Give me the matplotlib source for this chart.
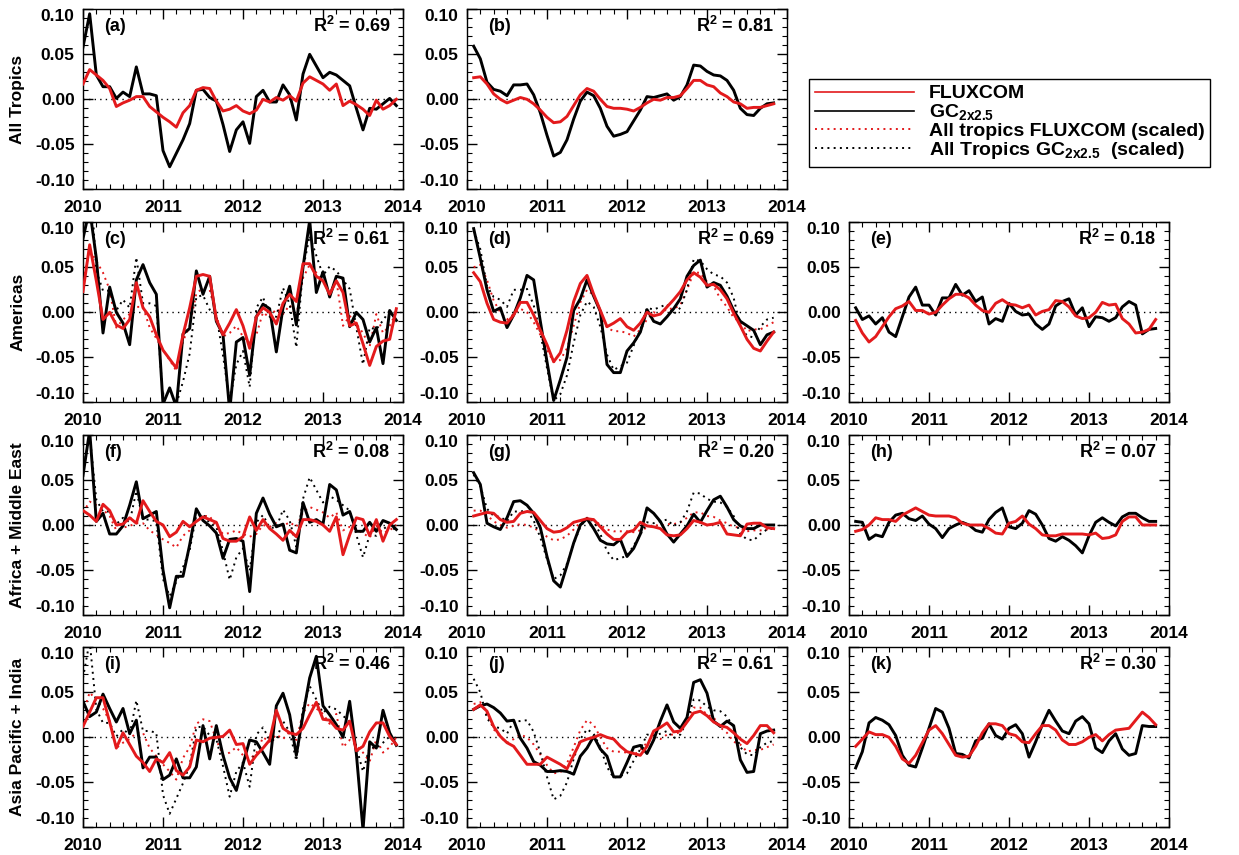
import numpy as np
import matplotlib
matplotlib.use('Agg')
import matplotlib.pyplot as plt
from matplotlib.lines import Line2D
from matplotlib.ticker import MultipleLocator

plt.rcParams['font.family'] = ['Liberation Sans', 'DejaVu Sans']
plt.rcParams['font.weight'] = 'bold'
plt.rcParams['mathtext.fontset'] = 'custom'
plt.rcParams['mathtext.rm'] = 'Liberation Sans:bold'
plt.rcParams['mathtext.bf'] = 'Liberation Sans:bold'
plt.rcParams['mathtext.it'] = 'Liberation Sans:bold'

# ---------------- time axes (decimal years) ----------------
t_full = 2010 + np.arange(48) / 12.0      # Jan 2010 .. Dec 2013 (column 1)
t_part = 2010 + np.arange(1, 47) / 12.0   # Feb 2010 .. Nov 2013 (columns 2-3)

row_names = ["All Tropics", "Americas", "Africa + Middle East", "Asia Pacific + India"]
year_ticks = [2010, 2011, 2012, 2013, 2014]

# ---------------- (a) All tropics, column 1 ----------------
a_flux = [0.017, 0.033, 0.027, 0.021, 0.012, -0.008, -0.004, -0.001, 0.003, 0.003, -0.008, -0.014,
          -0.020, -0.025, -0.031, -0.015, -0.007, 0.010, 0.013, 0.012, -0.002, -0.013, -0.011, -0.007,
          -0.013, -0.016, -0.012, 0.000, -0.003, 0.002, -0.001, 0.004, -0.002, 0.018, 0.025, 0.021,
          0.017, 0.010, 0.017, -0.007, -0.002, -0.006, -0.011, -0.018, -0.001, -0.011, -0.007, 0.000]
a_gc = [0.058, 0.095, 0.027, 0.014, 0.014, 0.001, 0.008, 0.003, 0.036, 0.006, 0.006, 0.004,
        -0.057, -0.075, -0.060, -0.045, -0.027, 0.010, 0.011, 0.002, -0.002, -0.028, -0.058, -0.034,
        -0.025, -0.049, 0.003, 0.010, -0.003, -0.003, 0.016, 0.005, -0.023, 0.028, 0.050, 0.037,
        0.024, 0.030, 0.027, 0.021, 0.015, -0.010, -0.034, -0.010, -0.011, -0.005, 0.001, -0.007]

# ---------------- (b) All tropics, column 2 ----------------
b_flux = [0.024, 0.025, 0.017, 0.006, 0.000, -0.004, -0.001, 0.002, 0.000, -0.005, -0.012,
          -0.020, -0.026, -0.025, -0.019, -0.007, 0.005, 0.012, 0.009, 0.000, -0.008, -0.010, -0.010,
          -0.011, -0.013, -0.009, -0.004, 0.000, -0.001, 0.002, 0.002, 0.004, 0.012, 0.021, 0.021,
          0.016, 0.014, 0.007, 0.003, -0.003, -0.005, -0.010, -0.009, -0.009, -0.007, -0.005]
b_gc = [0.059, 0.045, 0.019, 0.011, 0.009, 0.004, 0.016, 0.016, 0.017, 0.005, -0.015,
        -0.040, -0.063, -0.059, -0.045, -0.022, -0.002, 0.008, 0.004, -0.010, -0.030, -0.041, -0.039,
        -0.036, -0.024, -0.012, 0.003, 0.002, 0.004, 0.006, -0.001, 0.003, 0.016, 0.038, 0.037,
        0.031, 0.027, 0.026, 0.021, 0.010, -0.010, -0.017, -0.018, -0.010, -0.005, -0.004]

# ---------------- (c) Americas, column 1 ----------------
c_flux = [0.023, 0.075, 0.035, -0.008, 0.000, -0.014, -0.018, -0.008, 0.033, 0.005, -0.005, -0.025,
          -0.042, -0.052, -0.062, -0.025, 0.005, 0.040, 0.042, 0.040, -0.008, -0.025, -0.012, 0.003,
          -0.015, -0.040, -0.005, 0.005, 0.000, -0.013, 0.010, 0.020, 0.012, 0.054, 0.054, 0.040,
          0.035, 0.020, 0.035, 0.022, -0.015, -0.012, -0.035, -0.059, -0.038, -0.032, -0.030, 0.004]
c_gc = [0.082, 0.115, 0.060, -0.023, 0.028, 0.000, -0.012, -0.036, 0.036, 0.053, 0.033, 0.020,
        -0.102, -0.084, -0.105, -0.024, -0.018, 0.046, 0.020, 0.040, -0.010, -0.025, -0.110, -0.033,
        -0.028, -0.070, -0.005, 0.009, 0.004, -0.044, 0.005, 0.029, -0.014, 0.050, 0.102, 0.022,
        0.045, 0.017, 0.040, 0.038, -0.016, 0.000, -0.008, -0.033, -0.017, -0.057, 0.002, -0.009]
c_flux_scaled = [0.036, 0.069, 0.057, 0.044, 0.025, -0.017, -0.008, -0.002, 0.006, 0.006, -0.017, -0.029,
                 -0.042, -0.053, -0.065, -0.032, -0.015, 0.021, 0.027, 0.025, -0.004, -0.027, -0.023, -0.015,
                 -0.027, -0.034, -0.025, 0.000, -0.006, 0.004, -0.002, 0.008, -0.004, 0.038, 0.053, 0.044,
                 0.036, 0.021, 0.036, -0.015, -0.004, -0.013, -0.023, -0.038, -0.002, -0.023, -0.015, 0.000]
c_gc_scaled = [0.099, 0.162, 0.046, 0.024, 0.024, 0.002, 0.014, 0.005, 0.061, 0.010, 0.010, 0.007,
               -0.097, -0.128, -0.102, -0.077, -0.046, 0.017, 0.019, 0.003, -0.003, -0.048, -0.099, -0.058,
               -0.043, -0.083, 0.005, 0.017, -0.005, -0.005, 0.027, 0.009, -0.039, 0.048, 0.085, 0.063,
               0.041, 0.051, 0.046, 0.036, 0.026, -0.017, -0.058, -0.017, -0.019, -0.009, 0.002, -0.012]

# ---------------- (d) Americas, column 2 ----------------
d_flux = [0.044, 0.034, 0.010, -0.008, -0.011, -0.012, -0.003, 0.011, 0.011, -0.003, -0.020,
          -0.036, -0.055, -0.045, -0.020, 0.012, 0.032, 0.041, 0.020, 0.002, -0.016, -0.012, -0.007,
          -0.016, -0.020, -0.012, 0.000, -0.004, -0.002, 0.006, 0.014, 0.023, 0.036, 0.044, 0.039,
          0.030, 0.031, 0.025, 0.015, -0.001, -0.015, -0.030, -0.040, -0.043, -0.032, -0.022]
d_gc = [0.093, 0.060, 0.025, 0.001, 0.005, -0.017, -0.003, 0.016, 0.041, 0.036, -0.010,
        -0.055, -0.098, -0.075, -0.050, 0.002, 0.015, 0.036, 0.018, 0.001, -0.058, -0.067, -0.067,
        -0.043, -0.034, -0.022, 0.003, -0.010, -0.013, -0.005, 0.004, 0.015, 0.040, 0.052, 0.058,
        0.028, 0.033, 0.030, 0.018, 0.002, -0.010, -0.015, -0.020, -0.036, -0.025, -0.022]
d_flux_scaled = [0.050, 0.053, 0.036, 0.013, 0.000, -0.008, -0.002, 0.004, 0.000, -0.011, -0.025,
                 -0.042, -0.055, -0.053, -0.040, -0.015, 0.011, 0.025, 0.019, 0.000, -0.017, -0.021, -0.021,
                 -0.023, -0.027, -0.019, -0.008, 0.000, -0.002, 0.004, 0.004, 0.008, 0.025, 0.044, 0.044,
                 0.034, 0.029, 0.015, 0.006, -0.006, -0.011, -0.021, -0.019, -0.019, -0.015, -0.011]
d_gc_scaled = [0.091, 0.070, 0.029, 0.017, 0.014, 0.006, 0.025, 0.025, 0.026, 0.008, -0.023,
               -0.062, -0.098, -0.091, -0.070, -0.034, -0.003, 0.012, 0.006, -0.016, -0.047, -0.064, -0.060,
               -0.056, -0.037, -0.019, 0.005, 0.003, 0.006, 0.009, -0.002, 0.005, 0.025, 0.059, 0.057,
               0.048, 0.042, 0.040, 0.033, 0.016, -0.016, -0.026, -0.028, -0.016, -0.008, -0.006]

# ---------------- (e) Americas, column 3 ----------------
e_flux = [-0.009, -0.023, -0.033, -0.027, -0.016, -0.005, 0.004, 0.007, 0.012, 0.002, 0.002,
          -0.002, 0.000, 0.008, 0.015, 0.020, 0.020, 0.016, 0.008, 0.002, 0.000, 0.010, 0.014,
          0.009, 0.008, 0.005, 0.008, -0.003, 0.001, 0.003, 0.013, 0.012, 0.006, -0.004, -0.007,
          -0.006, 0.000, 0.011, 0.008, 0.009, -0.007, -0.013, -0.023, -0.022, -0.019, -0.008]
e_gc = [0.005, -0.008, -0.004, -0.013, -0.006, -0.022, -0.027, -0.005, 0.017, 0.028, 0.008,
        0.008, -0.003, 0.016, 0.016, 0.031, 0.019, 0.024, 0.012, 0.017, -0.013, -0.007, -0.010,
        0.010, 0.001, -0.003, -0.002, -0.013, -0.019, -0.013, 0.007, 0.012, 0.015, -0.003, 0.005,
        -0.016, -0.005, -0.006, -0.010, -0.006, 0.006, 0.012, 0.008, -0.024, -0.019, -0.018]

# ---------------- (f) Africa + Middle East, column 1 ----------------
f_flux = [0.016, 0.011, 0.004, 0.023, 0.016, 0.000, 0.001, 0.008, 0.002, 0.027, 0.015, 0.004,
          0.000, -0.013, -0.008, 0.004, -0.002, 0.004, 0.009, 0.006, 0.003, -0.015, -0.018, -0.018,
          -0.013, 0.009, -0.006, 0.006, -0.004, -0.010, -0.017, -0.006, -0.013, 0.006, 0.006, 0.004,
          0.000, -0.007, 0.009, -0.033, -0.011, 0.008, 0.006, -0.012, 0.006, -0.018, 0.000, 0.006]
f_gc = [0.055, 0.105, 0.004, 0.013, -0.010, -0.010, -0.001, 0.022, 0.048, 0.007, 0.011, 0.015,
        -0.050, -0.092, -0.057, -0.057, -0.022, 0.018, 0.005, -0.001, -0.009, -0.037, -0.016, -0.015,
        -0.018, -0.074, 0.013, 0.030, 0.012, -0.002, 0.001, -0.028, -0.031, 0.025, 0.003, 0.006,
        0.001, 0.045, 0.039, 0.011, 0.015, -0.007, -0.007, 0.003, -0.007, 0.005, 0.002, -0.005]
f_flux_scaled = [0.014, 0.026, 0.022, 0.017, 0.010, -0.006, -0.003, -0.001, 0.002, 0.002, -0.006, -0.011,
                 -0.016, -0.020, -0.025, -0.012, -0.006, 0.008, 0.010, 0.010, -0.002, -0.010, -0.009, -0.006,
                 -0.010, -0.013, -0.010, 0.000, -0.002, 0.002, -0.001, 0.003, -0.002, 0.014, 0.020, 0.017,
                 0.014, 0.008, 0.014, -0.006, -0.002, -0.005, -0.009, -0.014, -0.001, -0.009, -0.006, 0.000]
f_gc_scaled = [0.061, 0.100, 0.028, 0.015, 0.015, 0.001, 0.008, 0.003, 0.038, 0.006, 0.006, 0.004,
               -0.060, -0.079, -0.063, -0.047, -0.028, 0.011, 0.012, 0.002, -0.002, -0.029, -0.061, -0.036,
               -0.026, -0.051, 0.003, 0.011, -0.003, -0.003, 0.017, 0.005, -0.024, 0.029, 0.053, 0.039,
               0.025, 0.032, 0.028, 0.022, 0.016, -0.011, -0.036, -0.011, -0.012, -0.005, 0.001, -0.007]

# ---------------- (g) Africa + Middle East, column 2 ----------------
g_flux = [0.010, 0.012, 0.014, 0.013, 0.006, 0.003, 0.004, 0.013, 0.015, 0.014, 0.005,
          -0.004, -0.008, -0.007, -0.003, 0.003, 0.005, 0.007, 0.006, -0.002, -0.010, -0.016, -0.016,
          -0.008, -0.006, 0.003, -0.001, -0.002, -0.004, -0.011, -0.012, -0.011, -0.004, 0.005, 0.003,
          0.000, 0.001, 0.003, -0.010, -0.011, -0.012, 0.001, 0.002, 0.002, -0.003, -0.004]
g_gc = [0.058, 0.045, 0.002, -0.002, -0.005, 0.008, 0.026, 0.027, 0.022, 0.013, -0.003,
        -0.035, -0.062, -0.069, -0.045, -0.020, 0.000, 0.007, -0.004, -0.017, -0.021, -0.022, -0.016,
        -0.035, -0.026, -0.010, 0.019, 0.013, 0.004, -0.010, -0.019, -0.010, -0.001, 0.012, 0.003,
        0.016, 0.028, 0.032, 0.020, 0.006, -0.001, -0.004, -0.004, 0.000, 0.000, 0.000]
g_flux_scaled = [0.016, 0.016, 0.011, 0.004, 0.000, -0.003, -0.001, 0.001, 0.000, -0.003, -0.008,
                 -0.013, -0.017, -0.016, -0.012, -0.005, 0.003, 0.008, 0.006, 0.000, -0.005, -0.007, -0.007,
                 -0.007, -0.008, -0.006, -0.003, 0.000, -0.001, 0.001, 0.001, 0.003, 0.008, 0.014, 0.014,
                 0.010, 0.009, 0.005, 0.002, -0.002, -0.003, -0.007, -0.006, -0.006, -0.005, -0.003]
g_gc_scaled = [0.056, 0.043, 0.018, 0.010, 0.009, 0.004, 0.015, 0.015, 0.016, 0.005, -0.014,
               -0.038, -0.060, -0.056, -0.043, -0.021, -0.002, 0.008, 0.004, -0.010, -0.029, -0.039, -0.037,
               -0.034, -0.023, -0.011, 0.003, 0.002, 0.004, 0.006, -0.001, 0.003, 0.015, 0.036, 0.035,
               0.029, 0.026, 0.025, 0.020, 0.010, -0.010, -0.016, -0.017, -0.010, -0.005, -0.004]

# ---------------- (h) Africa + Middle East, column 3 ----------------
h_flux = [-0.007, -0.005, 0.000, 0.008, 0.006, 0.006, 0.004, 0.011, 0.015, 0.019, 0.015,
          0.011, 0.010, 0.010, 0.010, 0.008, 0.002, 0.000, 0.000, 0.000, -0.004, -0.009, -0.010,
          0.002, 0.004, 0.010, 0.001, -0.004, -0.011, -0.012, -0.012, -0.010, -0.010, -0.010, -0.010,
          -0.011, -0.009, -0.015, -0.014, -0.011, 0.004, 0.009, 0.009, 0.000, 0.000, 0.000]
h_gc = [0.004, 0.003, -0.016, -0.011, -0.013, 0.003, 0.011, 0.013, 0.007, 0.005, 0.010,
        0.001, -0.004, -0.014, -0.004, 0.000, 0.003, 0.000, -0.006, -0.008, 0.006, 0.014, 0.019,
        -0.002, -0.004, 0.002, 0.016, 0.012, 0.000, -0.015, -0.018, -0.013, -0.017, -0.023, -0.031,
        -0.012, 0.003, 0.008, 0.003, -0.001, 0.009, 0.013, 0.013, 0.008, 0.004, 0.004]

# ---------------- (i) Asia Pacific + India, column 1 ----------------
i_flux = [0.012, 0.028, 0.044, 0.044, 0.017, -0.012, 0.005, -0.008, -0.021, -0.028, -0.038, -0.024,
          -0.028, -0.017, -0.037, -0.042, -0.033, -0.003, -0.005, -0.001, 0.000, 0.001, 0.008, -0.008,
          -0.007, -0.030, -0.020, -0.012, -0.003, 0.030, 0.010, 0.005, 0.003, 0.010, 0.025, 0.039,
          0.020, 0.019, 0.010, 0.008, 0.018, -0.015, -0.010, 0.006, 0.016, 0.016, 0.001, -0.008]
i_gc = [0.040, 0.023, 0.028, 0.048, 0.032, 0.017, 0.032, 0.004, 0.019, -0.034, -0.022, -0.022,
        -0.047, -0.042, -0.024, -0.045, -0.045, -0.033, 0.013, -0.024, 0.013, -0.020, -0.045, -0.059,
        -0.030, -0.003, -0.005, -0.017, -0.030, 0.035, 0.049, 0.025, -0.020, 0.025, 0.066, 0.090,
        0.035, 0.025, 0.014, 0.000, 0.040, -0.018, -0.103, -0.005, -0.012, 0.030, 0.005, -0.009]
i_flux_scaled = [0.026, 0.050, 0.041, 0.032, 0.018, -0.012, -0.006, -0.002, 0.005, 0.005, -0.012, -0.021,
                 -0.030, -0.038, -0.047, -0.023, -0.011, 0.015, 0.020, 0.018, -0.003, -0.020, -0.017, -0.011,
                 -0.020, -0.024, -0.018, 0.000, -0.005, 0.003, -0.002, 0.006, -0.003, 0.027, 0.038, 0.032,
                 0.026, 0.015, 0.026, -0.011, -0.003, -0.009, -0.017, -0.027, -0.002, -0.017, -0.011, 0.000]
i_gc_scaled = [0.066, 0.107, 0.031, 0.016, 0.016, 0.001, 0.009, 0.003, 0.041, 0.007, 0.007, 0.005,
               -0.064, -0.085, -0.068, -0.051, -0.031, 0.011, 0.012, 0.002, -0.002, -0.032, -0.066, -0.038,
               -0.028, -0.055, 0.003, 0.011, -0.003, -0.003, 0.018, 0.006, -0.026, 0.032, 0.057, 0.042,
               0.027, 0.034, 0.031, 0.024, 0.017, -0.011, -0.038, -0.011, -0.012, -0.006, 0.001, -0.008]

# ---------------- (j) Asia Pacific + India, column 2 ----------------
j_flux = [0.031, 0.036, 0.029, 0.012, 0.001, -0.006, -0.010, -0.020, -0.030, -0.030, -0.030,
          -0.022, -0.026, -0.030, -0.035, -0.020, -0.005, -0.002, 0.000, 0.003, 0.000, -0.002, -0.010,
          -0.016, -0.018, -0.020, -0.010, 0.007, 0.011, 0.016, 0.006, 0.007, 0.017, 0.027, 0.029,
          0.024, 0.017, 0.013, 0.011, 0.005, -0.002, -0.007, 0.002, 0.013, 0.013, 0.005]
j_gc = [0.031, 0.035, 0.037, 0.033, 0.027, 0.018, 0.019, -0.001, -0.012, -0.027, -0.031,
        -0.038, -0.038, -0.037, -0.038, -0.041, -0.021, -0.012, 0.001, -0.013, -0.021, -0.044, -0.044,
        -0.028, -0.011, -0.009, -0.018, -0.003, 0.018, 0.036, 0.017, 0.010, 0.022, 0.061, 0.064,
        0.049, 0.018, 0.012, 0.018, 0.013, -0.025, -0.039, -0.038, 0.004, 0.007, 0.008]
j_flux_scaled = [0.037, 0.039, 0.026, 0.009, 0.000, -0.006, -0.002, 0.003, 0.000, -0.008, -0.019,
                 -0.031, -0.040, -0.039, -0.029, -0.011, 0.008, 0.019, 0.014, 0.000, -0.012, -0.016, -0.016,
                 -0.017, -0.020, -0.014, -0.006, 0.000, -0.002, 0.003, 0.003, 0.006, 0.019, 0.033, 0.033,
                 0.025, 0.022, 0.011, 0.005, -0.005, -0.008, -0.016, -0.014, -0.014, -0.011, -0.008]
j_gc_scaled = [0.065, 0.050, 0.021, 0.012, 0.010, 0.004, 0.018, 0.018, 0.019, 0.006, -0.017,
               -0.044, -0.069, -0.065, -0.050, -0.024, -0.002, 0.009, 0.004, -0.011, -0.033, -0.045, -0.043,
               -0.040, -0.026, -0.013, 0.003, 0.002, 0.004, 0.007, -0.001, 0.003, 0.018, 0.042, 0.041,
               0.034, 0.030, 0.029, 0.023, 0.011, -0.011, -0.019, -0.020, -0.011, -0.006, -0.004]

# ---------------- (k) Asia Pacific + India, column 3 ----------------
k_flux = [-0.010, -0.002, 0.006, 0.003, 0.003, 0.000, -0.010, -0.024, -0.029, -0.020, -0.006,
          0.008, 0.013, 0.004, -0.008, -0.020, -0.022, -0.021, -0.010, 0.005, 0.015, 0.015, 0.013,
          0.004, 0.002, -0.005, -0.006, 0.004, 0.013, 0.013, 0.008, -0.003, -0.008, -0.008, -0.005,
          0.000, 0.003, -0.004, 0.003, 0.008, 0.009, 0.010, 0.019, 0.028, 0.022, 0.014]
k_gc = [-0.034, -0.016, 0.016, 0.022, 0.019, 0.014, 0.002, -0.020, -0.031, -0.033, -0.012,
        0.010, 0.032, 0.028, 0.010, -0.018, -0.019, -0.023, -0.004, -0.001, 0.015, 0.002, -0.002,
        0.010, 0.014, 0.004, -0.022, -0.005, 0.014, 0.030, 0.018, 0.007, 0.004, 0.018, 0.023,
        0.015, -0.012, -0.017, -0.004, 0.004, -0.013, -0.020, -0.018, 0.013, 0.012, 0.012]

r2_values = {"a": 0.69, "b": 0.81, "c": 0.61, "d": 0.69, "e": 0.18, "f": 0.08,
             "g": 0.20, "h": 0.07, "i": 0.46, "j": 0.61, "k": 0.30}

# panel table: letter, row, col, time, flux, gc, flux_scaled, gc_scaled
panels = [
    ("a", 0, 0, t_full, a_flux, a_gc, None, None),
    ("b", 0, 1, t_part, b_flux, b_gc, None, None),
    ("c", 1, 0, t_full, c_flux, c_gc, c_flux_scaled, c_gc_scaled),
    ("d", 1, 1, t_part, d_flux, d_gc, d_flux_scaled, d_gc_scaled),
    ("e", 1, 2, t_part, e_flux, e_gc, None, None),
    ("f", 2, 0, t_full, f_flux, f_gc, f_flux_scaled, f_gc_scaled),
    ("g", 2, 1, t_part, g_flux, g_gc, g_flux_scaled, g_gc_scaled),
    ("h", 2, 2, t_part, h_flux, h_gc, None, None),
    ("i", 3, 0, t_full, i_flux, i_gc, i_flux_scaled, i_gc_scaled),
    ("j", 3, 1, t_part, j_flux, j_gc, j_flux_scaled, j_gc_scaled),
    ("k", 3, 2, t_part, k_flux, k_gc, None, None),
]

RED = '#e31a1c'
W, H = 1239, 855
fig = plt.figure(figsize=(W / 100, H / 100), dpi=100)

col_left = [83, 467, 849]
row_top = [9.3, 222.3, 435.0, 647.3]
ax_w, ax_h = 320, 180

dot_style = (0, (1, 2.2))
ytick_vals = [-0.10, -0.05, 0.0, 0.05, 0.10]
ytick_text = ['-0.10', '-0.05', '0.00', '0.05', '0.10']

for letter, r, c, t, fl, gc, fls, gcs in panels:
    ax = fig.add_axes([col_left[c] / W, 1 - (row_top[r] + ax_h) / H, ax_w / W, ax_h / H])
    ax.axhline(0, color='k', lw=1.0, ls=(0, (1, 3)), zorder=1)
    if fls is not None:
        ax.plot(t, fls, color=RED, lw=1.4, ls=dot_style, zorder=2)
        ax.plot(t, gcs, color='k', lw=1.4, ls=dot_style, zorder=2)
    ax.plot(t, gc, color='k', lw=2.1, zorder=3)
    ax.plot(t, fl, color=RED, lw=2.1, zorder=4)
    ax.set_xlim(2010, 2014)
    ax.set_ylim(-0.1, 0.1)
    ax.set_xticks(year_ticks)
    ax.set_xticklabels([str(y) for y in year_ticks])
    ax.set_yticks(ytick_vals)
    ax.set_yticklabels(ytick_text)
    ax.yaxis.set_minor_locator(MultipleLocator(0.01))
    ax.xaxis.set_minor_locator(MultipleLocator(1 / 6))
    ax.tick_params(which='both', direction='in', top=True, right=True, labelsize=12.5)
    ax.tick_params(which='major', length=7, width=1.0)
    ax.tick_params(axis='x', which='major', pad=8)
    ax.tick_params(axis='y', which='major', pad=6)
    ax.tick_params(which='minor', length=3.5, width=0.8)
    for lab in ax.get_xticklabels() + ax.get_yticklabels():
        lab.set_fontweight('bold')
    ylabs = ax.get_yticklabels()
    ylabs[0].set_va('bottom')
    ylabs[-1].set_va('top')
    for sp in ax.spines.values():
        sp.set_linewidth(1.0)
    ax.text(0.065, 0.905, f"({letter})", transform=ax.transAxes, fontsize=13,
            fontweight='bold', ha='left', va='center')
    ax.text(0.96, 0.905, r"R$^2$ = " + f"{r2_values[letter]:.2f}", transform=ax.transAxes,
            fontsize=13, fontweight='bold', ha='right', va='center')
    if c == 0:
        ax.set_ylabel(row_names[r], fontsize=12.5, fontweight='bold', labelpad=7)

handles = [
    Line2D([], [], color=RED, lw=1.2),
    Line2D([], [], color='k', lw=1.2),
    Line2D([], [], color=RED, lw=1.4, ls=dot_style),
    Line2D([], [], color='k', lw=1.4, ls=dot_style),
]
labels = ["FLUXCOM", r"GC$_{2x2.5}$", "All tropics FLUXCOM (scaled)",
          r"All Tropics GC$_{2x2.5}$  (scaled)"]
leg = fig.legend(handles, labels, loc='upper left', bbox_to_anchor=(809 / W, 1 - 79 / H),
                 frameon=True, fancybox=False, edgecolor='k', framealpha=1,
                 prop={'size': 14, 'weight': 'bold'}, handlelength=5.1, handletextpad=0.75,
                 labelspacing=0.0, borderpad=0.3, borderaxespad=0)
leg.get_frame().set_linewidth(1.0)

fig.savefig('out.png', dpi=100)
